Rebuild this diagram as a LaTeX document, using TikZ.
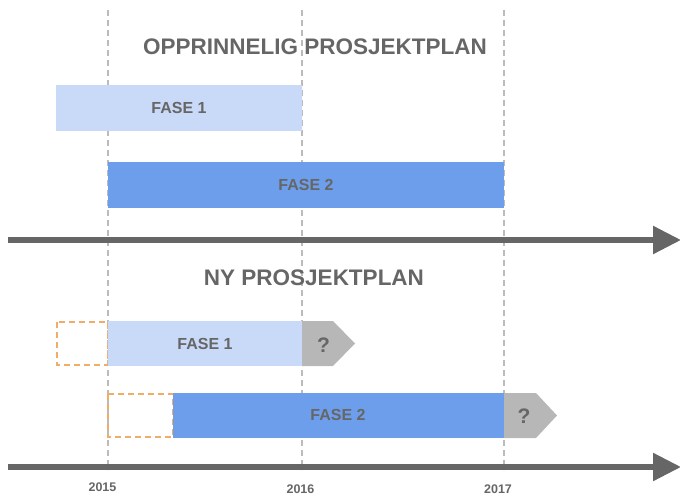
\documentclass[tikz,border=0pt]{standalone}
\usepackage{fontspec}
\setmainfont{Liberation Sans}
\usetikzlibrary{arrows.meta}
\definecolor{txtgray}{HTML}{666666}
\definecolor{lightblue}{HTML}{C9DAF8}
\definecolor{midblue}{HTML}{6D9EEB}
\definecolor{qgray}{HTML}{B7B7B7}
\definecolor{gridgray}{HTML}{BBBBBB}
\definecolor{dashorange}{HTML}{F0AD68}
\tikzset{
  title/.style={font=\bfseries\fontsize{22.5}{26}\selectfont, text=txtgray},
  phase/.style={font=\bfseries\fontsize{16}{19}\selectfont, text=txtgray},
  qtext/.style={font=\bfseries\fontsize{21}{24}\selectfont, text=txtgray},
  year/.style={font=\bfseries\fontsize{12.5}{15}\selectfont, text=txtgray, inner sep=1pt},
  grid/.style={gridgray, line width=1.3pt, dash pattern=on 6pt off 4pt},
  axis/.style={txtgray, line width=5.5pt, -{Triangle[length=28pt,width=27pt]}},
  gap/.style={dashorange, line width=1.7pt, dash pattern=on 6pt off 4pt},
  qmark/.style={fill=qgray, draw=none},
}
\begin{document}
\begin{tikzpicture}[x=1pt,y=-1pt]
\useasboundingbox (0,0) rectangle (680,495);

% year grid lines
\foreach \gx in {108,302,504}
  \draw[grid] (\gx,10) -- (\gx,470);

% original plan
\node[title] (t1) at (315,47) {OPPRINNELIG PROSJEKTPLAN};
\fill[lightblue] (56,85) rectangle (302,131);
\node[phase] (of1) at (179,108) {FASE 1};
\fill[midblue] (108,162) rectangle (504,208);
\node[phase] (of2) at (306,185) {FASE 2};
\coordinate (a1s) at (8,240);
\coordinate (a1e) at (681,240);
\draw[axis] (a1s) -- (a1e);

% new plan
\node[title] (t2) at (314,278) {NY PROSJEKTPLAN};
\draw[gap] (57,322) rectangle (108,365);
\fill[lightblue] (108,321) rectangle (302,366);
\fill[qmark] (302,321) -- (333,321) -- (355,343.5) -- (333,366) -- (302,366) -- cycle;
\node[phase] (nf1) at (205,344) {FASE 1};
\node[qtext] (q1) at (323.5,345) {?};

\draw[gap] (108,394) rectangle (173,437);
\fill[midblue] (173,393) rectangle (504,438);
\fill[qmark] (504,393) -- (536,393) -- (557,415.5) -- (536,438) -- (504,438) -- cycle;
\node[phase] (nf2) at (338,415) {FASE 2};
\node[qtext] (q2) at (524,416) {?};

\coordinate (a2s) at (8,467);
\coordinate (a2e) at (681,467);
\draw[axis] (a2s) -- (a2e);

\node[year] (y1) at (102.5,487) {2015};
\node[year] (y2) at (300.5,489) {2016};
\node[year] (y3) at (498,489) {2017};
\end{tikzpicture}
\end{document}
